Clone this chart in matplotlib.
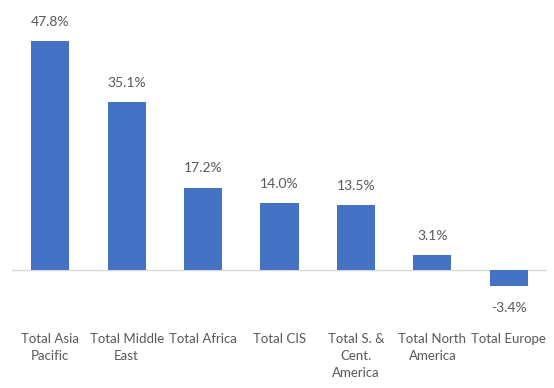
import numpy as np
import matplotlib.pyplot as plt

regions = ["Total Asia\nPacific", "Total Middle\nEast", "Total Africa", "Total CIS",
           "Total S. &\nCent.\nAmerica", "Total North\nAmerica", "Total Europe"]
growth = [47.8, 35.1, 17.2, 14.0, 13.5, 3.1, -3.4]

bar_color = "#4472C4"
text_color = "#595959"

plt.rcParams['font.family'] = ['Lato', 'DejaVu Sans']

fig = plt.figure(figsize=(5.54, 3.88), dpi=100)
ax = fig.add_axes([12 / 554, (388 - 294) / 388, 535 / 554, (294 - 30.5) / 388])

x = np.arange(len(regions))
bars = ax.bar(x, growth, width=0.5, color=bar_color, zorder=2)
ax.set_xlim(-0.5, len(regions) - 0.5)
ax.set_ylim(-5, 50)
ax.axhline(0, color="#D9D9D9", linewidth=1, zorder=1)

for b, v in zip(bars, growth):
    off = 9.5 if v >= 0 else -11.5
    ax.annotate(f"{v:.1f}%", (b.get_x() + b.get_width() / 2, v),
                xytext=(0, off), textcoords="offset points",
                ha="center", va="bottom" if v >= 0 else "top",
                fontsize=10, color=text_color)

ax.set_xticks(x)
ax.set_xticklabels(regions, fontsize=9.5, color=text_color, linespacing=1.5, va="top")
ax.tick_params(axis="x", length=0, pad=28)
ax.set_yticks([])
for s in ax.spines.values():
    s.set_visible(False)

fig.savefig("out.png", dpi=100)
